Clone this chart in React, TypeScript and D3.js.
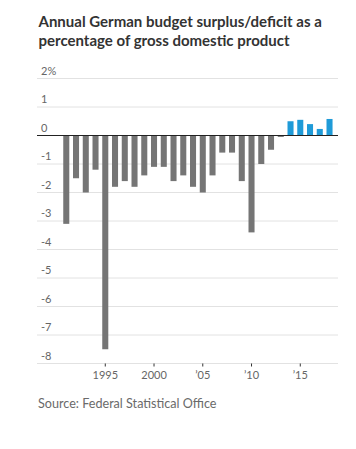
import React from "react";
import * as d3 from "d3";

const years: number[] = d3.range(1991, 2019);
const values: number[] = [
  -3.1, -1.5, -2.0, -1.2, -7.5, -1.8, -1.6, -1.8, -1.4, -1.1,
  -1.1, -1.6, -1.4, -1.8, -2.0, -1.4, -0.6, -0.6, -1.6, -3.4,
  -1.0, -0.5, -0.05, 0.5, 0.55, 0.4, 0.23, 0.58,
];
const yTicks: number[] = [2, 1, 0, -1, -2, -3, -4, -5, -6, -7, -8];
const xTicks: number[] = [1995, 2000, 2005, 2010, 2015];
const xTickLabels: string[] = ["1995", "2000", "\u201905", "\u201910", "\u201915"];
const title: string[] = [
  "Annual German budget surplus/deficit as a",
  "percentage of gross domestic product",
];
const source = "Source: Federal Statistical Office";

export default function App() {
  const W = 356;
  const H = 449;
  const left = 37;
  const right = 338;
  const y = d3.scaleLinear().domain([-8, 2]).range([363.5, 78.5]);
  const x = d3
    .scaleBand<number>()
    .domain(years)
    .range([61.4, 61.4 + 28 * 9.75])
    .paddingInner(0.38)
    .paddingOuter(0.19);
  const font = "Lato, 'Noto Sans', sans-serif";
  return (
    <svg
      width={W}
      height={H}
      style={{ position: "absolute", left: 0, top: 0, background: "#fff" }}
    >
      {title.map((t, i) => (
        <text
          key={i}
          x={38.5}
          y={26.5 + i * 19.5}
          fontFamily={font}
          fontWeight={700}
          fontSize={15}
          fill="#333"
        >
          {t}
        </text>
      ))}
      {yTicks.map((t) => (
        <g key={t}>
          {t !== 0 && (
            <line
              x1={left}
              x2={right}
              y1={y(t)}
              y2={y(t)}
              stroke="#e2e2e2"
              strokeWidth={1}
            />
          )}
          <text
            x={41}
            y={y(t) - 4}
            fontFamily={font}
            fontSize={11}
            fill="#666"
          >
            {t === 2 ? "2%" : String(t)}
          </text>
        </g>
      ))}
      {years.map((yr, i) => {
        const v = values[i];
        const y0 = y(0);
        const y1 = y(v);
        return (
          <rect
            key={yr}
            x={x(yr)}
            width={x.bandwidth()}
            y={Math.min(y0, y1)}
            height={Math.abs(y1 - y0)}
            fill={yr >= 2014 ? "#1f9bd8" : "#757575"}
          />
        );
      })}
      <line x1={left} x2={right} y1={y(0)} y2={y(0)} stroke="#222" strokeWidth={1.2} />
      {xTicks.map((t, i) => {
        const cx = (x(t) as number) + x.bandwidth() / 2;
        return (
          <g key={t}>
            <line x1={cx} x2={cx} y1={y(-8)} y2={y(-8) + 3} stroke="#333" strokeWidth={1} />
            <text
              x={cx}
              y={379}
              textAnchor="middle"
              fontFamily={font}
              fontSize={11}
              fill="#666"
            >
              {xTickLabels[i]}
            </text>
          </g>
        );
      })}
      <text x={38} y={408} fontFamily={font} fontSize={12.6} fill="#6a6a6a">
        {source}
      </text>
    </svg>
  );
}
